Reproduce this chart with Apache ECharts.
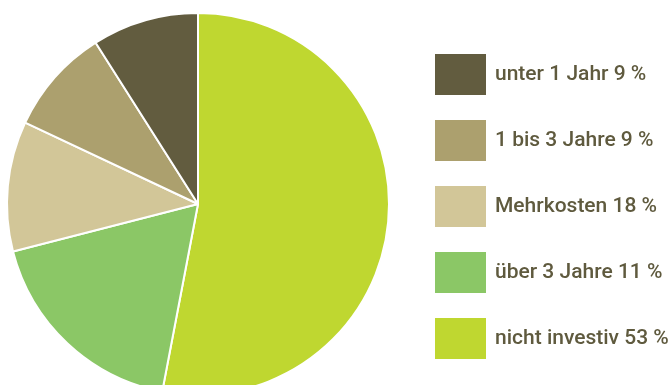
<!DOCTYPE html>
<html>
<head>
<meta charset="utf-8">
<script src="https://cdn.jsdelivr.net/npm/echarts@6/dist/echarts.min.js"></script>
<style>
html,body{margin:0;padding:0;background:#fff;}
#c{width:672px;height:385px;}
</style>
</head>
<body>
<div id="c"></div>
<script>
// slice names (clockwise from 12 o'clock) and values as drawn
const names = ["nicht investiv 53 %", "über 3 Jahre 11 %", "Mehrkosten 18 %", "1 bis 3 Jahre 9 %", "unter 1 Jahr 9 %"];
const values = [53, 18, 11, 9, 9];
const colors = ["#bfd730", "#8bc766", "#d2c698", "#aca06e", "#625c3f"];
// legend order top to bottom
const legendOrder = ["unter 1 Jahr 9 %", "1 bis 3 Jahre 9 %", "Mehrkosten 18 %", "über 3 Jahre 11 %", "nicht investiv 53 %"];

const chart = echarts.init(document.getElementById('c'), null, {renderer: 'canvas'});
chart.setOption({
  animation: false,
  backgroundColor: '#ffffff',
  legend: {
    orient: 'vertical',
    left: 433,
    top: 52,
    padding: 0,
    itemWidth: 53,
    itemHeight: 43,
    itemGap: 21,
    icon: 'rect',
    data: legendOrder,
    selectedMode: false,
    textStyle: {
      fontFamily: 'Roboto, sans-serif',
      fontSize: 21,
      fontWeight: 500,
      color: '#5f5a3e',
      padding: [0, 0, 0, 3]
    }
  },
  series: [{
    type: 'pie',
    center: [198, 204],
    radius: 191,
    startAngle: 90,
    clockwise: true,
    label: {show: false},
    labelLine: {show: false},
    emphasis: {disabled: true},
    itemStyle: {borderColor: '#ffffff', borderWidth: 2},
    data: names.map((n, i) => ({name: n, value: values[i], itemStyle: {color: colors[i]}}))
  }]
});
</script>
</body>
</html>
